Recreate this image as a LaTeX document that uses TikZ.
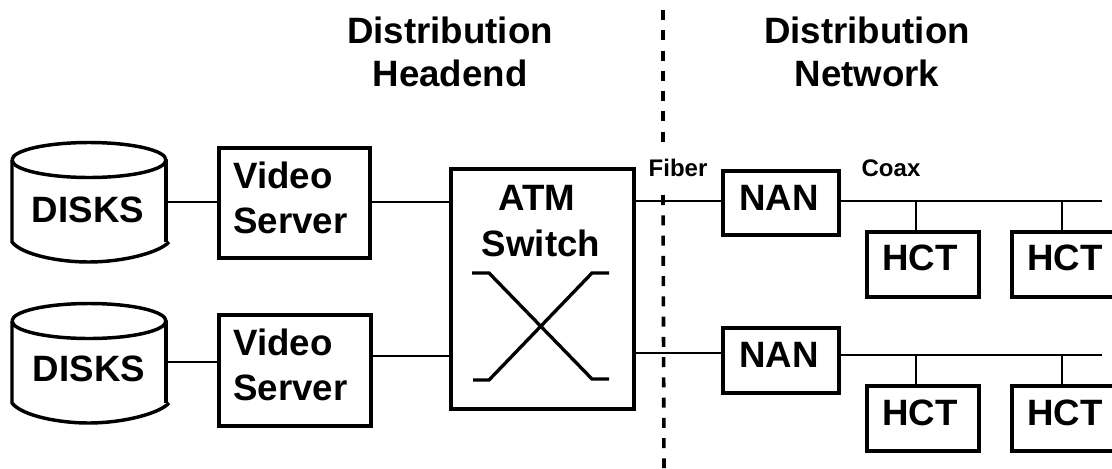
\documentclass[tikz,border=0pt]{standalone}
\usepackage{fontspec}
\setmainfont{Liberation Sans}
\newcommand{\fs}[1]{\fontsize{#1}{#1}\selectfont\bfseries}
\begin{document}
\begin{tikzpicture}[x=0.75pt,y=-0.75pt,
  lnk/.style={line width=2.1pt},
  boxn/.style={draw,line width=2.9pt,inner sep=0pt,anchor=north west,align=center},
  divide/.style={line width=2.7pt,dash pattern=on 7.5pt off 7.7pt},
  big/.style={font=\fs{27.5},inner sep=0pt},
  lab/.style={font=\fs{18},inner sep=0pt},
  head/.style={font=\fs{27.5},inner sep=0pt,align=center}]
\useasboundingbox (0,0) rectangle (1112,468);
\clip (0,0) rectangle (1112,468);
% divider
\coordinate (dtop) at (663,10);
\coordinate (dmid) at (663,143);
\coordinate (dfib) at (663,195);
\coordinate (dbot) at (664,468);
\draw[divide] (dtop) -- (dmid);
\draw[divide] (dfib) -- (dbot);
% disks
\foreach \n/\t in {1/145,2/306}{
  \begin{scope}[shift={(0,\t)}]
  \draw[line width=2.6pt] (12,15) arc[start angle=180,end angle=-180,x radius=77,y radius=17.5];
  \draw[line width=2.6pt] (12,15) -- (12,97) .. controls (22,110) and (60,117) .. (88,117) .. controls (125,117) and (160,107) .. (169,97);
  \draw[line width=2.6pt] (166,15) -- (166,97);
  \end{scope}}
\node[big] (disk1) at (88,210) {DISKS};
\node[big] (disk2) at (89,369) {DISKS};
\coordinate (d1r) at (166,202);
\coordinate (d2r) at (166,362);
% video servers
\node[boxn,minimum width=151*0.75pt,minimum height=110*0.75pt] (vs1) at (217,146) {};
\node[boxn,minimum width=152*0.75pt,minimum height=111*0.75pt] (vs2) at (217,313) {};
\node[big,anchor=west,align=left] (vt1) at (233,198) {Video\\[6.25pt]Server};
\node[big,anchor=west,align=left] (vt2) at (233,365) {Video\\[6.25pt]Server};
% ATM
\node[boxn,minimum width=183*0.75pt,minimum height=240*0.75pt] (atm) at (449,167) {};
\node[big] (atmt) at (537,198) {ATM};
\node[big] (swt) at (541,243) {Switch};
\coordinate (x1a) at (472,273); \coordinate (x1b) at (489,273);
\coordinate (x1c) at (592,379); \coordinate (x1d) at (609,379);
\coordinate (x2a) at (473,380); \coordinate (x2b) at (489,380);
\coordinate (x2c) at (592,273); \coordinate (x2d) at (609,273);
\draw[line width=2.5pt] (x1a) -- (x1b) -- (x1c) -- (x1d);
\draw[line width=2.5pt] (x2a) -- (x2b) -- (x2c) -- (x2d);
% NAN
\node[boxn,minimum width=116*0.75pt,minimum height=64*0.75pt] (nan1) at (721,169) {};
\node[boxn,minimum width=116*0.75pt,minimum height=65*0.75pt] (nan2) at (721,326) {};
\node[big] (nt1) at (779,198) {NAN};
\node[big] (nt2) at (779,355) {NAN};
% HCT
\node[boxn,minimum width=112*0.75pt,minimum height=65*0.75pt] (h1) at (865,230) {};
\node[boxn,minimum width=112*0.75pt,minimum height=65*0.75pt] (h3) at (865,384) {};
\node[boxn,minimum width=120*0.75pt,minimum height=65*0.75pt] (h2) at (1010,230) {};
\node[boxn,minimum width=120*0.75pt,minimum height=65*0.75pt] (h4) at (1010,384) {};
\node[big] (ht1) at (920,258) {HCT};
\node[big] (ht3) at (920,413) {HCT};
\node[big] (ht2) at (1065,258) {HCT};
\node[big] (ht4) at (1065,413) {HCT};
% links
\draw[lnk] (d1r) -- (d1r -| vs1.west);
\draw[lnk] (d2r) -- (d2r -| vs2.west);
\coordinate (v1) at (368,202); \coordinate (v2) at (369,356);
\draw[lnk] (v1) -- (v1 -| atm.west);
\draw[lnk] (v2) -- (v2 -| atm.west);
\coordinate (a1) at (632,201); \coordinate (a2) at (632,353);
\draw[lnk] (a1) -- (a1 -| nan1.west);
\draw[lnk] (a2) -- (a2 -| nan2.west);
\coordinate (b1s) at (837,201); \coordinate (b1e) at (1102,201);
\coordinate (b2s) at (837,355); \coordinate (b2e) at (1102,355);
\draw[lnk] (b1s) -- (b1e);
\draw[lnk] (b2s) -- (b2e);
\coordinate (t1) at (916,201); \coordinate (t2) at (1062,201);
\coordinate (t3) at (916,355); \coordinate (t4) at (1062,355);
\draw[lnk] (t1) -- (t1 |- h1.north);
\draw[lnk] (t2) -- (t2 |- h2.north);
\draw[lnk] (t3) -- (t3 |- h3.north);
\draw[lnk] (t4) -- (t4 |- h4.north);
% labels
\node[lab] (fiber) at (678,168) {Fiber};
\node[lab] (coax) at (891,168) {Coax};
\node[head] (hd1) at (450,52) {Distribution\\[4.75pt]Headend};
\node[head] (hd2) at (867,52) {Distribution\\[4.75pt]Network};
\end{tikzpicture}
\end{document}
